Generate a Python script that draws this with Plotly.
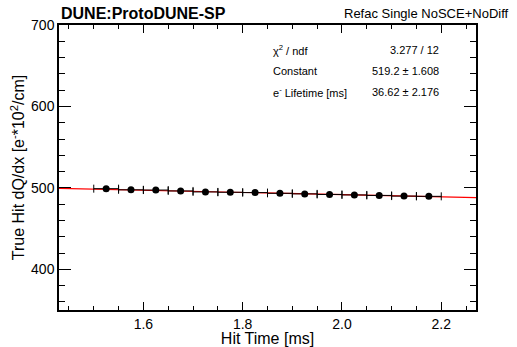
import numpy as np
import plotly.graph_objects as go

hit_time = [1.525, 1.575, 1.625, 1.675, 1.725, 1.775, 1.825, 1.875,
            1.925, 1.975, 2.025, 2.075, 2.125, 2.175]
dqdx = [499.0, 497.6, 497.3, 496.2, 495.0, 494.6, 494.2, 493.3,
        492.6, 491.9, 491.3, 490.7, 489.9, 489.6]
dqdx_err = [1.0, 0.9, 0.9, 0.9, 0.9, 0.9, 0.9, 0.9, 0.9, 0.9, 0.9, 0.9, 0.9, 1.0]
bin_half = 0.025

fit_const = 519.2
fit_life = 36.62
fit_range = [1.43, 2.27]

stat_labels = ["χ<sup>2</sup> / ndf", "Constant", "e<sup>-</sup> Lifetime [ms]"]
stat_values = ["3.277 / 12", "519.2 ± 1.608", "36.62 ± 2.176"]

fit_t = np.linspace(fit_range[0], fit_range[1], 60)
fit_y = fit_const * np.exp(-fit_t / fit_life)

font = "Liberation Sans, Arial, sans-serif"
W, H = 517, 347
L, R, T, B = 59, 41, 25, 37

fig = go.Figure()
fig.add_trace(go.Scatter(x=fit_t, y=fit_y, mode="lines",
                         line=dict(color="#ff0000", width=1.2), showlegend=False))
fig.add_trace(go.Scatter(
    x=hit_time, y=dqdx, mode="markers",
    marker=dict(color="black", size=7),
    error_x=dict(type="constant", value=bin_half, color="black", thickness=1, width=4),
    error_y=dict(type="data", array=dqdx_err, color="black", thickness=1, width=0),
    showlegend=False))

fig.update_layout(
    width=W, height=H,
    margin=dict(l=L, r=R, t=T, b=B, autoexpand=False),
    paper_bgcolor="white", plot_bgcolor="white",
    font=dict(family=font, color="black", size=14),
    xaxis=dict(range=[1.43, 2.27], tickmode="array",
               tickvals=[1.6, 1.8, 2.0, 2.2], ticktext=["1.6", "1.8", "2.0", "2.2"],
               ticks="inside", ticklen=8, tickwidth=1, tickcolor="black",
               minor=dict(ticks="inside", dtick=0.05, tick0=1.4, ticklen=4, tickcolor="black", showgrid=False),
               showline=True, linecolor="black", linewidth=1.5, mirror="allticks",
               showgrid=False, zeroline=False, automargin=False,
               tickfont=dict(size=14, family=font),
               title=dict(text="Hit Time [ms]", font=dict(size=16, family=font), standoff=0)),
    yaxis=dict(range=[350, 700], tickmode="array",
               tickvals=[400, 500, 600, 700], ticktext=["400", "500", "600", "700"],
               ticks="inside", ticklen=12, tickwidth=1, tickcolor="black",
               minor=dict(ticks="inside", dtick=20, tick0=0, ticklen=6, tickcolor="black", showgrid=False),
               showline=True, linecolor="black", linewidth=1.5, mirror="allticks",
               showgrid=False, zeroline=False, automargin=False,
               tickfont=dict(size=14, family=font),
               title=dict(text="True Hit dQ/dx [e<sup>-</sup>*10<sup>2</sup>/cm]",
                          font=dict(size=16, family=font), standoff=2)),
)


def px_to_paper(px, py):
    return (px - L) / (W - L - R), 1 - (py - T) / (H - T - B)


annos = []
annos.append((59, 13, "<b>DUNE:ProtoDUNE-SP</b>", "left", 16))
annos.append((511, 13, "Refac Single NoSCE+NoDiff", "right", 13))
row_y = [50, 71, 92]
for lab, val, ry in zip(stat_labels, stat_values, row_y):
    annos.append((271, ry, lab, "left", 11))
    annos.append((441, ry, val, "right", 11))

for px, py, txt, anchor, size in annos:
    ax, ay = px_to_paper(px, py)
    fig.add_annotation(x=ax, y=ay, xref="paper", yref="paper", showarrow=False,
                       text=txt, xanchor=anchor, yanchor="middle",
                       font=dict(size=size, family=font, color="black"))

fig.write_html("out.html")
